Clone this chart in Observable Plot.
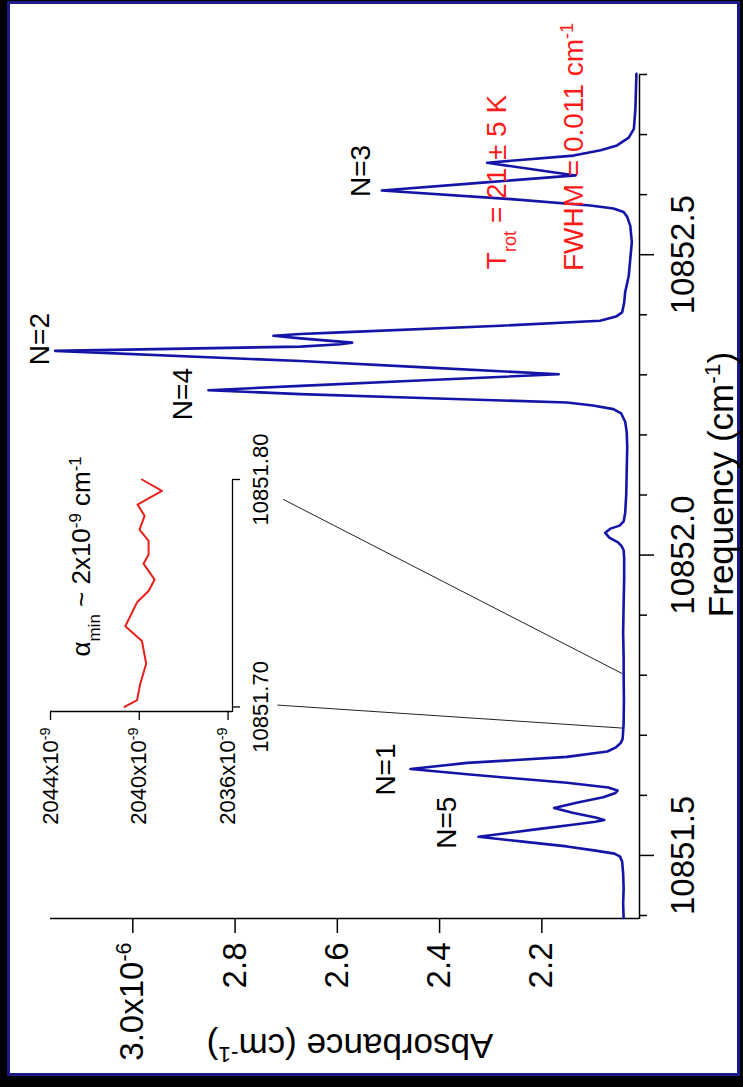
<!DOCTYPE html>
<html><head><meta charset="utf-8">
<script src="https://cdn.jsdelivr.net/npm/d3@7"></script>
<script src="https://cdn.jsdelivr.net/npm/@observablehq/plot@0.6"></script>
<style>
html,body{margin:0;padding:0;background:#000;width:743px;height:1087px;overflow:hidden;}
#panel{position:absolute;left:7px;top:1px;width:727px;height:1069px;background:#fff;border:3px solid #1b1b85;}
#land{position:absolute;left:0;top:0;width:1087px;height:743px;transform-origin:0 0;transform:translate(0px,1087px) rotate(-90deg);color:#000;}
#land svg{position:absolute;top:0;}
</style></head>
<body><div id="panel"></div><div id="land"></div>
<script>
// ---- main spectrum (frequency in cm^-1, absorbance in 1e-6 cm^-1) ----
const freq = [10851.396,10851.420,10851.445,10851.470,10851.490,10851.498,10851.503,10851.508,10851.515,10851.523,
  10851.531,10851.537,10851.543,10851.551,10851.556,10851.559,10851.563,10851.571,10851.579,10851.588,
  10851.597,10851.604,10851.608,10851.613,10851.621,10851.635,10851.644,10851.654,10851.664,10851.673,
  10851.680,10851.687,10851.694,10851.720,10851.760,10851.800,10851.830,10851.870,10851.920,10851.960,
  10851.995,10852.008,10852.015,10852.021,10852.029,10852.037,10852.044,10852.049,10852.056,10852.070,
  10852.100,10852.140,10852.180,10852.205,10852.222,10852.236,10852.243,10852.249,10852.254,10852.262,
  10852.268,10852.2745,10852.2817,10852.291,10852.301,10852.312,10852.323,10852.340,10852.347,10852.351,
  10852.3537,10852.3607,10852.365,10852.368,10852.3707,10852.3817,10852.390,10852.397,10852.404,10852.420,
  10852.438,10852.465,10852.493,10852.521,10852.548,10852.563,10852.571,10852.577,10852.582,10852.593,
  10852.607,10852.620,10852.632,10852.653,10852.665,10852.674,10852.682,10852.695,10852.7095,10852.743,10852.801];
const absorbance = [2.040,2.041,2.040,2.041,2.043,2.047,2.058,2.095,2.151,2.237,
  2.324,2.270,2.216,2.140,2.095,2.078,2.095,2.140,2.176,2.130,
  2.080,2.056,2.052,2.070,2.151,2.346,2.457,2.346,2.151,2.072,
  2.055,2.046,2.042,2.040,2.0395,2.040,2.040,2.041,2.040,2.039,
  2.039,2.040,2.044,2.051,2.068,2.076,2.066,2.048,2.040,2.037,
  2.035,2.034,2.033,2.034,2.037,2.045,2.060,2.100,2.151,2.450,
  2.672,2.852,2.672,2.430,2.167,2.420,2.672,3.152,2.672,2.594,
  2.571,2.672,2.725,2.672,2.594,2.281,2.086,2.055,2.043,2.039,
  2.037,2.030,2.027,2.024,2.027,2.033,2.040,2.060,2.105,2.268,
  2.513,2.316,2.134,2.307,2.138,2.085,2.053,2.030,2.020,2.017,2.015];

// ---- inset trace (absorbance in 1e-9 cm^-1) ----
const insetFreq = [10851.700,10851.703,10851.710,10851.719,10851.729,10851.7355,10851.746,10851.751,10851.756,
  10851.763,10851.767,10851.773,10851.778,10851.784,10851.789,10851.795,10851.800];
const insetAbs = [2040.66,2040.10,2039.96,2039.69,2039.88,2040.63,2040.10,2039.58,2039.31,
  2039.81,2039.58,2039.58,2039.99,2039.76,2040.08,2038.98,2039.88];

// ---- axes ----
const freqDomain = [10851.395, 10852.8];
const absDomain = [2.009, 3.161];
const freqMajor = [10851.5, 10852.0, 10852.5];
const freqMinor = [10851.4,10851.6,10851.7,10851.8,10851.9,10852.1,10852.2,10852.3,10852.4,10852.6,10852.7,10852.8];
const absTicks = [2.2, 2.4, 2.6, 2.8, 3.0];
const insetFreqDomain = [10851.698, 10851.80];
const insetAbsDomain = [2035.8, 2044];
const insetFreqTicks = [10851.70, 10851.80];
const insetAbsTicks = [2036, 2040, 2044];

// ---- annotations ----
const peakLabels = ["N=5", "N=1", "N=4", "N=2", "N=3"];
const peakLabelFreq = [10851.5545, 10851.643, 10852.268, 10852.3595, 10852.6395];
const peakLabelAbs = [2.385, 2.504, 2.901, 3.181, 2.553];
const noteTexts = ["T_{rot} = 21 ± 5 K", "FWHM = 0.011 cm^{-1}"];
const noteFreq = [10852.621, 10852.6795];
const noteAbs = [2.287, 2.138];
const zoomFreq1 = [10851.7503, 10852.0928];
const zoomAbs1 = [2.7174, 2.706];
const zoomFreq2 = [10851.712, 10851.8028];
const zoomAbs2 = [2.043, 2.043];

const FONT = "'Liberation Sans', Arial, Helvetica, sans-serif";
const spectrum = freq.map((f, i) => ({f, a: absorbance[i]}));
const inset = insetFreq.map((f, i) => ({f, a: insetAbs[i]}));
const labels = peakLabels.map((t, i) => ({t, f: peakLabelFreq[i], a: peakLabelAbs[i]}));
const notes = noteTexts.map((t, i) => ({t, f: noteFreq[i], a: noteAbs[i]}));
const links = zoomFreq1.map((f, i) => ({f1: f, a1: zoomAbs1[i], f2: zoomFreq2[i], a2: zoomAbs2[i]}));

function richify(svg) {
  svg.querySelectorAll("text").forEach(t => {
    const nodes = t.querySelectorAll("tspan").length ? Array.from(t.querySelectorAll("tspan")) : [t];
    nodes.forEach(n => {
      const s = n.textContent;
      if (!/[\^_]\{/.test(s)) return;
      n.textContent = "";
      const re = /([\^_])\{([^}]*)\}|([^\^_]+)/g; let m;
      while ((m = re.exec(s))) {
        const ts = document.createElementNS("http://www.w3.org/2000/svg", "tspan");
        if (m[3] !== undefined) ts.textContent = m[3];
        else {
          ts.textContent = m[2];
          ts.setAttribute("font-size", "65%");
          ts.setAttribute("baseline-shift", m[1] === "^" ? "super" : "sub");
        }
        n.appendChild(ts);
      }
    });
  });
}

const main = Plot.plot({
  width: 1087, height: 743,
  marginLeft: 168, marginRight: 75, marginTop: 50, marginBottom: 104,
  x: {domain: freqDomain, axis: null, label: null},
  y: {domain: absDomain, axis: null, label: null},
  style: {background: "transparent", fontFamily: FONT, overflow: "visible"},
  marks: [
    Plot.ruleY([absDomain[0]], {stroke: "#000", strokeWidth: 1.5}),
    Plot.ruleX([freqDomain[0]], {stroke: "#000", strokeWidth: 1.5}),
    Plot.axisX(freqMinor, {anchor: "bottom", tickSize: 8, tickFormat: () => "", strokeWidth: 1.5, label: null}),
    Plot.axisX(freqMajor, {anchor: "bottom", tickSize: 15, tickPadding: 16, tickFormat: d3.format(".1f"), fontSize: 33, strokeWidth: 1.5, label: null}),
    Plot.axisY(absTicks, {anchor: "left", tickSize: 14, tickPadding: 10, fontSize: 33, strokeWidth: 1.5, label: null,
      tickFormat: d => d === 3 ? "3.0x10^{-6}" : d.toFixed(1)}),
    Plot.link(links, {x1: "f1", y1: "a1", x2: "f2", y2: "a2", stroke: "#222", strokeWidth: 1}),
    Plot.line(spectrum, {x: "f", y: "a", stroke: "#1414a8", strokeWidth: 2.6}),
    Plot.text(labels, {x: "f", y: "a", text: "t", fontSize: 28, fill: "#000"}),
    Plot.text(notes, {x: "f", y: "a", text: "t", fontSize: 28, fill: "#ff1a1a"}),
    Plot.text(["Frequency (cm^{-1})"], {text: d => d, frameAnchor: "bottom", textAnchor: "middle", dx: 12, dy: 93, lineAnchor: "bottom", fontSize: 35, fill: "#000"}),
    Plot.text(["Absorbance (cm^{-1})"], {text: d => d, frameAnchor: "left", textAnchor: "middle", rotate: -90, dx: -115, dy: 5, lineAnchor: "bottom", fontSize: 35, fill: "#000"})
  ]
});
main.style.left = "0px";
richify(main);

const insetPlot = Plot.plot({
  width: 450, height: 300,
  marginLeft: 175, marginRight: 43, marginTop: 50, marginBottom: 68,
  x: {domain: insetFreqDomain, axis: null, label: null},
  y: {domain: insetAbsDomain, axis: null, label: null},
  style: {background: "transparent", fontFamily: FONT, overflow: "visible"},
  marks: [
    Plot.ruleY([insetAbsDomain[0]], {stroke: "#000", strokeWidth: 1.3}),
    Plot.ruleX([insetFreqDomain[0]], {stroke: "#000", strokeWidth: 1.3}),
    Plot.axisX(insetFreqTicks, {anchor: "bottom", tickSize: 8, tickPadding: 12, fontSize: 22, strokeWidth: 1.3, label: null,
      tickFormat: d => d.toFixed(2)}),
    Plot.axisY(insetAbsTicks, {anchor: "left", tickSize: 8, tickPadding: 8, fontSize: 22, strokeWidth: 1.3, label: null,
      tickFormat: d => d + "x10^{-9}"}),
    Plot.line(inset, {x: "f", y: "a", stroke: "#e8201c", strokeWidth: 2}),
    Plot.text(["α_{min} ~ 2x10^{-9} cm^{-1}"], {text: d => d, x: 10851.7222, y: 2042.198, textAnchor: "start", lineAnchor: "bottom", fontSize: 26, fill: "#000"})
  ]
});
insetPlot.style.left = "200px";
richify(insetPlot);

document.getElementById("land").append(main, insetPlot);
</script>
</body></html>
